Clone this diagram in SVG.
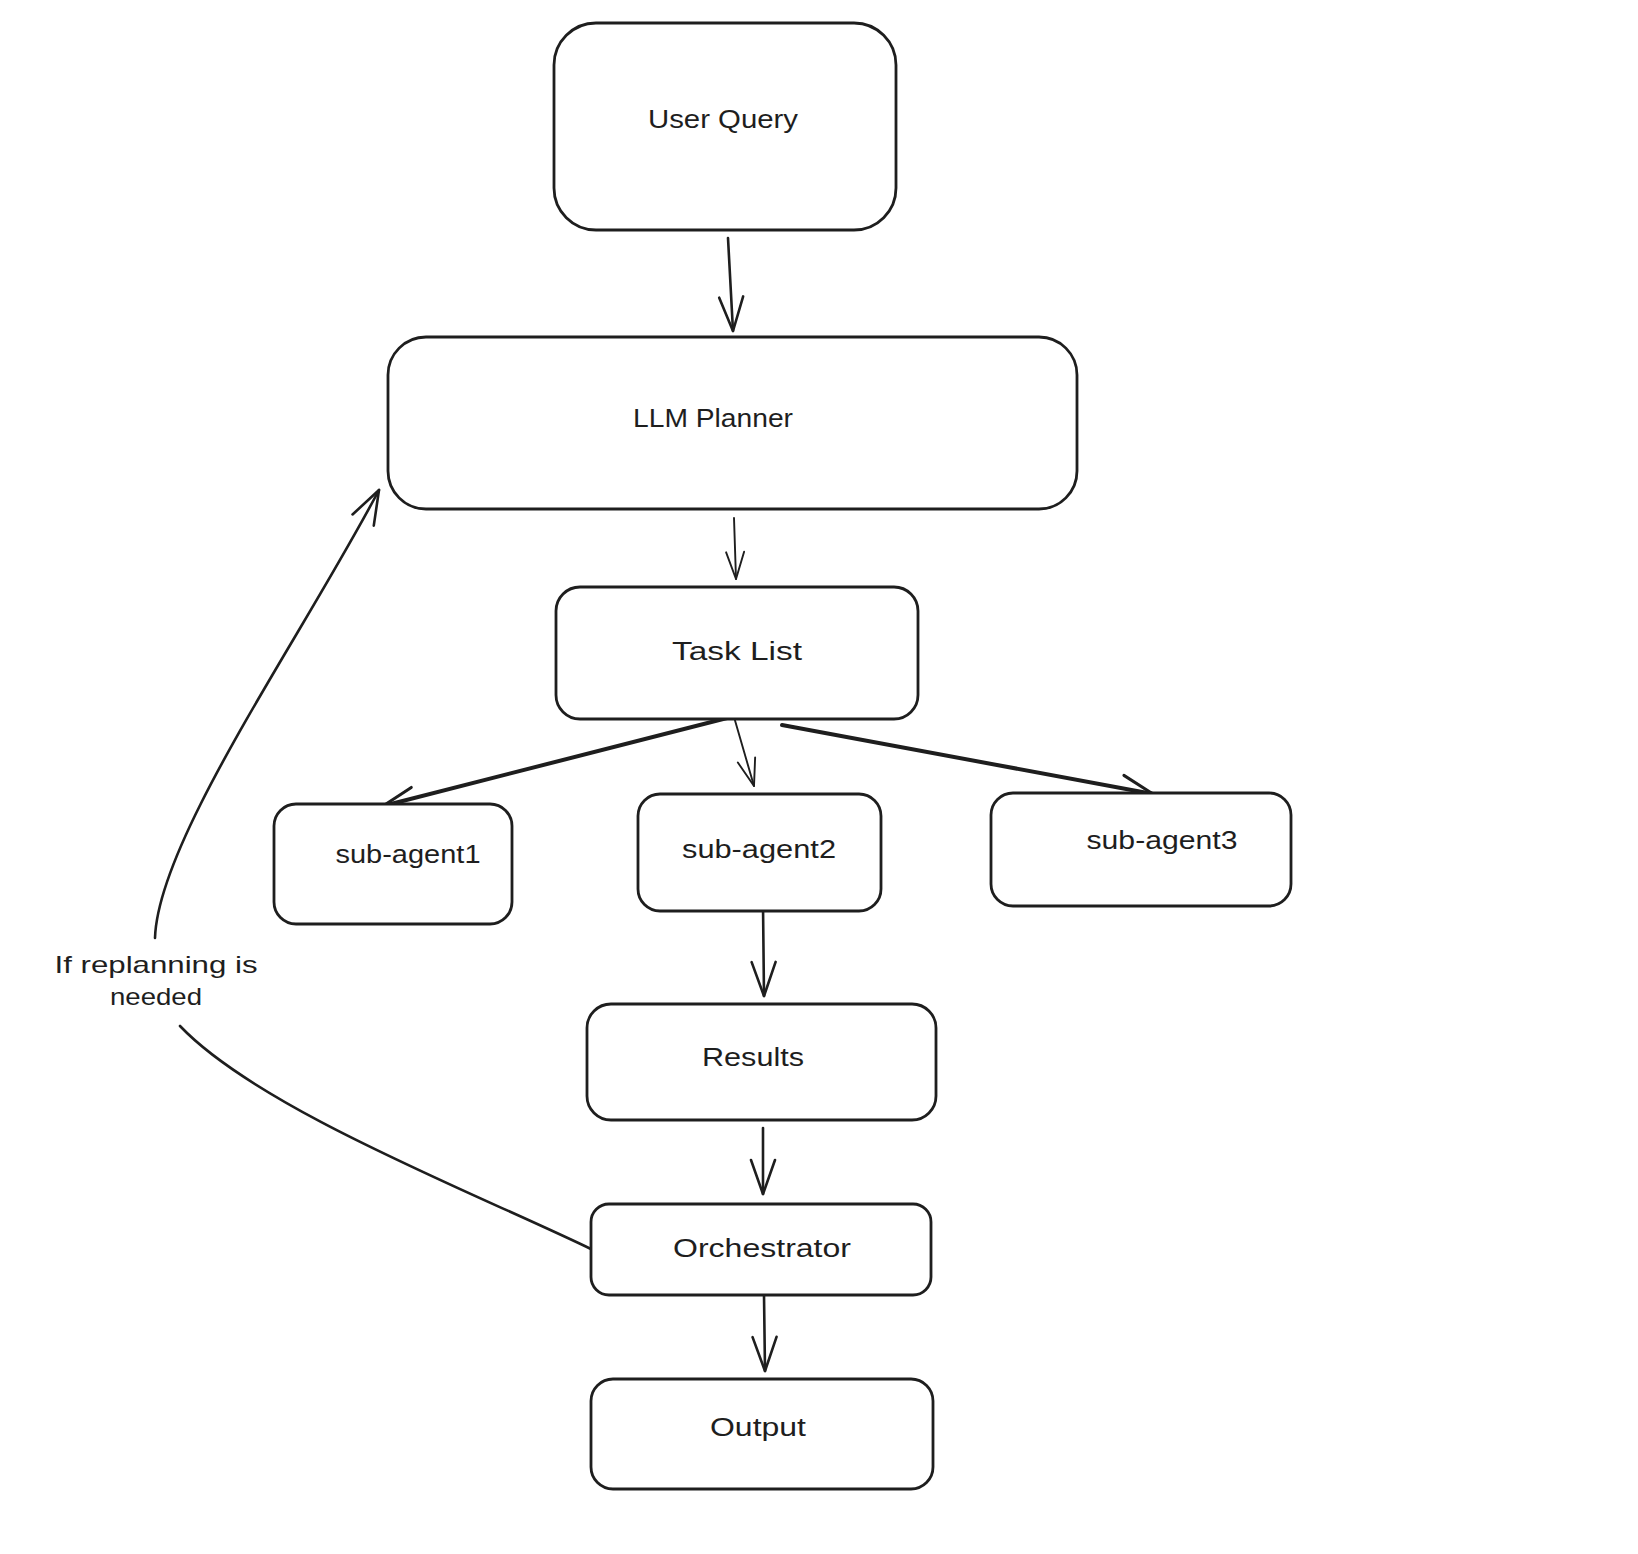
<svg xmlns="http://www.w3.org/2000/svg" width="1638" height="1554" viewBox="0 0 1638 1554">
  <defs>
    <style>
      .box { fill: #ffffff; stroke: #1e1e1e; stroke-width: 2.8; }
      .lbl { font-family: "Liberation Sans", Arial, sans-serif; font-size: 26px; fill: #1e1e1e; text-anchor: middle; }
      .note { font-family: "Liberation Sans", Arial, sans-serif; font-size: 24px; fill: #1e1e1e; text-anchor: middle; }
      .edge { fill: none; stroke: #1e1e1e; stroke-width: 2.6; stroke-linecap: round; }
      .thin { stroke-width: 1.9; }
      .thick { stroke-width: 4; }
    </style>
    <marker id="ah" markerUnits="userSpaceOnUse" markerWidth="60" markerHeight="60" refX="0" refY="0" orient="auto" overflow="visible" viewBox="-40 -20 60 40">
      <path d="M-34,-12 L0,0 L-34,12" fill="none" stroke="#1e1e1e" stroke-width="2.6" stroke-linecap="round" stroke-linejoin="round"/>
    </marker>
    <marker id="ahs" markerUnits="userSpaceOnUse" markerWidth="60" markerHeight="60" refX="0" refY="0" orient="auto" overflow="visible" viewBox="-40 -20 60 40">
      <path d="M-27,-9 L0,0 L-27,9" fill="none" stroke="#1e1e1e" stroke-width="1.9" stroke-linecap="round" stroke-linejoin="round"/>
    </marker>
    <marker id="ahb" markerUnits="userSpaceOnUse" markerWidth="60" markerHeight="60" refX="0" refY="0" orient="auto" overflow="visible" viewBox="-40 -20 60 40">
      <path d="M-32,-13 L0,0 L-32,11" fill="none" stroke="#1e1e1e" stroke-width="3" stroke-linecap="round" stroke-linejoin="round"/>
    </marker>
  </defs>
  <rect width="1638" height="1554" fill="#ffffff"/>

  <g id="connectors">
    <path class="edge" d="M728,238 L733,331" marker-end="url(#ah)"/>
    <path class="edge thin" d="M734,518 L736,579" marker-end="url(#ahs)"/>
    <path class="edge thick" d="M731,717 L383,806" marker-end="url(#ahb)"/>
    <path class="edge thin" d="M734,717 L754,786" marker-end="url(#ahs)"/>
    <path class="edge thick" d="M782,725 L1153,794" marker-end="url(#ahb)"/>
    <path class="edge" d="M763,905 L764,996" marker-end="url(#ah)"/>
    <path class="edge" d="M763,1128 L763,1194" marker-end="url(#ah)"/>
    <path class="edge" d="M764,1295 L765,1371" marker-end="url(#ah)"/>
    <path class="edge" d="M593,1250 C480,1195 260,1110 180,1026"/>
    <path class="edge" d="M155,938 C158,840 300,640 379,490" marker-end="url(#ah)"/>
    <text class="note" x="156" y="973" textLength="203" lengthAdjust="spacingAndGlyphs">If replanning is</text>
    <text class="note" x="156" y="1005" textLength="92" lengthAdjust="spacingAndGlyphs">needed</text>
  </g>

  <g id="user-query">
    <rect class="box" x="554" y="23" width="342" height="207" rx="42"/>
    <text class="lbl" x="723" y="128" textLength="150" lengthAdjust="spacingAndGlyphs">User Query</text>
  </g>
  <g id="llm-planner">
    <rect class="box" x="388" y="337" width="689" height="172" rx="38"/>
    <text class="lbl" x="713" y="427" textLength="160" lengthAdjust="spacingAndGlyphs">LLM Planner</text>
  </g>
  <g id="task-list">
    <rect class="box" x="556" y="587" width="362" height="132" rx="24"/>
    <text class="lbl" x="737" y="660" textLength="130" lengthAdjust="spacingAndGlyphs">Task List</text>
  </g>
  <g id="sub-agent1">
    <rect class="box" x="274" y="804" width="238" height="120" rx="22"/>
    <text class="lbl" x="408" y="863" textLength="145" lengthAdjust="spacingAndGlyphs">sub-agent1</text>
  </g>
  <g id="sub-agent2">
    <rect class="box" x="638" y="794" width="243" height="117" rx="22"/>
    <text class="lbl" x="759" y="858" textLength="154" lengthAdjust="spacingAndGlyphs">sub-agent2</text>
  </g>
  <g id="sub-agent3">
    <rect class="box" x="991" y="793" width="300" height="113" rx="22"/>
    <text class="lbl" x="1162" y="849" textLength="151" lengthAdjust="spacingAndGlyphs">sub-agent3</text>
  </g>
  <g id="results">
    <rect class="box" x="587" y="1004" width="349" height="116" rx="24"/>
    <text class="lbl" x="753" y="1066" textLength="102" lengthAdjust="spacingAndGlyphs">Results</text>
  </g>
  <g id="orchestrator">
    <rect class="box" x="591" y="1204" width="340" height="91" rx="18"/>
    <text class="lbl" x="762" y="1257" textLength="178" lengthAdjust="spacingAndGlyphs">Orchestrator</text>
  </g>
  <g id="output">
    <rect class="box" x="591" y="1379" width="342" height="110" rx="22"/>
    <text class="lbl" x="758" y="1436" textLength="96" lengthAdjust="spacingAndGlyphs">Output</text>
  </g>
</svg>
